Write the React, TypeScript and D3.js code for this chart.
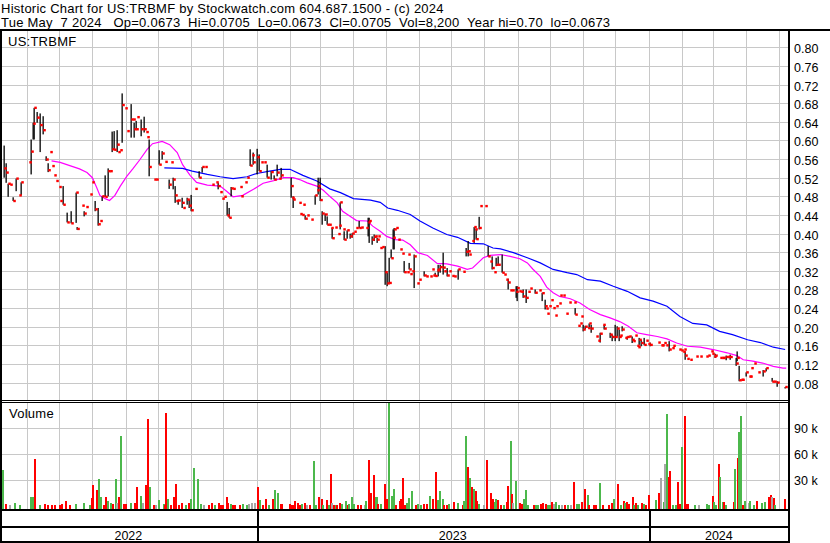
import React, { useEffect, useRef } from 'react';
import * as d3 from 'd3';

// day = calendar days after 2022-05-07; [day, high, low, close] or [day, close]
type Bar = number[];
// [day, volume in thousands, direction: 1 up, -1 down, 0 unchanged]
type Vol = number[];

const START = Date.UTC(2022, 4, 7);
const DAY = 864e5;
const SPAN_DAYS = 734.6;

const headerLine1 = 'Historic Chart for US:TRBMF by Stockwatch.com 604.687.1500 - (c) 2024';
const headerLine2 =
  'Tue May  7 2024   Op=0.0673  Hi=0.0705  Lo=0.0673  Cl=0.0705  Vol=8,200  Year hi=0.70  lo=0.0673';
const symbol = 'US:TRBMF';

const priceTicks = [0.08, 0.12, 0.16, 0.2, 0.24, 0.28, 0.32, 0.36, 0.4, 0.44, 0.48, 0.52, 0.56, 0.6, 0.64, 0.68, 0.72, 0.76, 0.8];
const volumeTicks = [30, 60, 90];

const bars2022: Bar[] = [
  [4, .589, .52, .54], [6, .551, .509, .531], [7, .507, .479, .507], [9, .505], [12, .478, .47, .47],
  [15, .518, .491, .518], [18, .482], [20, .51, .482, .51], [27, .553], [29, .602, .527, .576],
  [31, .638, .602, .636], [32, .67, .602, .67], [34, .661, .638, .649], [37, .658, .575, .633],
  [40, .652, .613, .622], [43, .566, .556, .559], [45, .551, .532, .536], [47, .575], [48, .545],
  [50, .525], [52, .513], [55, .5], [56, .47], [59, .502, .462, .462], [62, .445, .424, .424],
  [66, .448, .422, .422], [71, .488, .423, .488], [72, .414, .408, .41], [76, .46], [78, .448, .437, .443],
  [80, .457], [84, .484], [86, .51], [88, .47, .448, .452], [91, .455, .417, .42], [93, .427],
  [95, .48, .47, .48], [98, .525, .479, .479], [101, .54, .48, .534], [102, .534], [104, .619, .575, .581],
  [106, .62, .58, .58], [109, .622, .575, .591], [110, .575], [112, .579], [114, .701, .595, .676],
  [116, .669], [118, .62], [122, .678, .606, .645], [124, .645], [125, .638, .606, .624],
  [127, .642, .624, .624], [128, .65], [131, .645, .609, .624], [134, .651, .617, .624], [136, .618],
  [137, .607], [139, .602, .523, .543], [143, .516], [145, .516], [148, .579, .548, .548],
  [151, .577, .559, .572], [154, .554], [157, .516, .496, .505], [159, .553], [161, .52, .495, .516],
  [163, .502, .466, .482], [164, .47], [166, .473, .462, .471], [169, .477, .455, .466], [170, .455],
  [174, .477, .462, .473], [176, .473, .455, .46], [178, .483, .448, .45], [182, .496],
  [185, .534, .52, .52], [188, .543, .531, .543], [191, .543], [197, .505], [201, .51],
  [203, .509, .495, .502], [205, .489], [207, .475], [209, .479], [211, .468, .439, .439],
  [213, .455, .434, .434], [215, .5, .48, .497], [217, .496], [223, .5], [224, .48], [228, .51],
  [230, .52], [233, .581, .545, .546], [235, .568], [236, .574, .548, .553],
];

const bars2023: Bar[] = [
  [239, .582, .527, .564], [241, .57, .534, .534], [243, .553], [246, .553], [249, .548, .52, .52],
  [252, .534, .516, .532], [255, .525, .516, .516], [258, .548, .523, .531], [260, .518],
  [262, .541, .52, .525], [271, .52, .477, .502], [272, .477], [273, .48, .455, .473], [278, .466],
  [279, .442], [281, .44], [282, .462], [284, .439, .43, .432], [286, .439], [290, .43],
  [293, .482, .462, .482], [295, .493], [296, .52, .484, .502], [298, .52, .47, .472],
  [300, .448, .419, .443], [303, .443, .427, .441], [304, .437, .419, .419], [306, .419], [308, .412],
  [309, .412, .389, .39], [312, .413], [315, .399], [316, .417], [317, .467, .409, .467], [319, .409],
  [320, .405, .386, .387], [323, .407, .389, .407], [326, .4, .389, .394], [328, .401, .391, .4],
  [330, .404], [331, .412], [334, .427, .412, .412], [336, .413], [341, .412], [343, .434, .394, .424],
  [344, .434, .38, .427], [346, .394, .376, .387], [348, .398, .384, .393], [349, .394],
  [351, .391, .38, .387], [352, .394], [354, .369], [356, .371], [358, .373, .29, .317],
  [360, .316, .287, .293], [362, .348, .294, .294], [364, .366, .347, .347], [366, .409, .366, .391],
  [367, .412, .366, .409], [369, .412], [371, .387], [372, .366], [374, .357], [376, .341, .316, .317],
  [379, .317], [380, .355], [381, .337, .323, .323], [382, .313], [384, .319], [385, .355, .283, .351],
  [388, .293], [390, .301], [395, .319, .308, .31], [397, .308], [400, .308], [402, .323], [403, .31],
  [405, .316, .308, .309], [407, .321], [408, .333, .308, .323], [410, .333, .316, .328],
  [412, .359, .312, .327], [413, .319], [416, .326, .308, .31], [418, .319], [421, .309], [423, .308],
  [426, .323, .301, .323], [431, .318], [434, .369, .351, .361], [436, .384, .351, .362], [437, .355],
  [439, .384], [441, .414, .38, .414], [442, .409], [443, .41, .387, .388], [446, .436, .409, .412],
  [447, .459], [452, .459], [454, .373, .351, .351], [456, .34], [458, .351, .323, .326], [460, .317],
  [462, .348, .33, .333], [464, .351, .333, .333], [467, .355, .316, .316], [469, .312], [471, .301],
  [473, .303, .28, .295], [475, .278], [477, .278], [480, .287, .262, .275], [481, .287, .255, .283],
  [483, .276], [485, .275], [487, .28, .262, .265], [490, .28, .251, .262], [492, .275], [493, .282],
  [498, .28, .271, .273], [502, .278], [505, .273, .255, .272], [507, .258, .237, .244], [508, .239],
  [509, .228], [511, .244], [513, .257], [515, .24], [517, .224], [518, .244], [520, .25], [521, .267],
  [524, .267], [527, .228], [530, .252], [534, .252], [535, .24, .226, .226], [538, .202], [540, .207],
  [541, .222], [543, .204, .19, .194], [545, .202, .195, .2], [547, .197], [548, .207, .195, .207],
  [550, .204, .187, .196], [555, .179], [557, .17], [559, .187, .166, .185], [561, .204],
  [562, .204, .194, .196], [568, .187, .176, .183], [570, .183, .169, .178], [573, .204, .169, .178],
  [574, .201, .179, .196], [576, .194, .169, .178], [577, .181], [579, .201, .19, .194], [582, .176],
  [584, .179, .172, .178], [586, .179], [588, .179, .165, .172], [589, .169], [591, .181], [593, .159],
  [594, .156], [595, .176, .161, .172], [597, .172, .158, .165], [600, .176, .161, .161], [601, .17],
  [603, .163],
];

const bars2024: Bar[] = [
  [605, .166, .158, .161], [613, .166], [615, .16], [616, .16], [618, .165], [620, .16],
  [623, .169, .147, .151], [626, .154], [627, .159], [632, .151], [634, .149], [636, .146], [637, .151],
  [638, .147, .129, .138], [640, .131], [642, .129], [648, .136], [652, .136], [657, .136], [659, .138],
  [662, .147], [663, .142], [665, .136], [666, .142, .133, .138], [670, .133], [672, .133], [673, .133],
  [676, .138, .128, .135], [678, .135], [680, .14, .129, .135], [685, .133, .116, .121],
  [686, .147, .126, .133], [688, .116, .083, .085], [690, .086], [691, .086], [695, .102, .093, .102],
  [697, .093], [698, .093], [699, .111], [702, .121], [706, .102], [710, .107, .093, .104],
  [713, .111, .104, .111], [719, .09, .082, .082], [721, .082], [723, .083, .071, .08],
  [731, .0705, .0673, .0705],
];

// moving averages: [day, value]
const maShort: number[][] = [
  [48, .556], [56, .553], [65, .546], [74, .539], [81, .531], [86, .52], [90, .499], [93, .482],
  [98, .475], [102, .471], [107, .482], [112, .502], [118, .523], [124, .54], [130, .558], [137, .581],
  [142, .593], [151, .598], [158, .591], [165, .574], [170, .548], [177, .525], [183, .51], [193, .504],
  [205, .502], [211, .491], [217, .479], [226, .482], [236, .495], [245, .508], [254, .513], [264, .52],
  [273, .52], [279, .516], [286, .509], [295, .502], [301, .493], [307, .48], [314, .466], [319, .448],
  [328, .434], [332, .428], [342, .427], [347, .416], [354, .405], [360, .394], [368, .387], [375, .386],
  [382, .376], [389, .359], [398, .353], [407, .336], [416, .335], [426, .33], [435, .323], [440, .326],
  [445, .337], [450, .348], [456, .353], [466, .355], [475, .351], [484, .346], [491, .337], [496, .324],
  [503, .308], [509, .285], [515, .273], [521, .265], [531, .26], [540, .251], [549, .237], [559, .226],
  [568, .219], [577, .211], [585, .201], [593, .187], [602, .183], [612, .179], [621, .174], [630, .165],
  [640, .158], [652, .156], [664, .151], [677, .144], [686, .138], [692, .129], [701, .126], [710, .122],
  [720, .115], [729, .111], [732, .111],
];

const maLong: number[][] = [
  [153, .541], [170, .54], [179, .534], [193, .527], [205, .522], [217, .518], [230, .522], [239, .529],
  [251, .534], [261, .538], [270, .538], [282, .525], [295, .513], [307, .496], [317, .488], [329, .475],
  [345, .472], [354, .467], [361, .455], [370, .45], [382, .441], [391, .427], [403, .412], [416, .398],
  [426, .392], [438, .379], [450, .378], [459, .369], [466, .367], [478, .359], [491, .348], [503, .337],
  [515, .323], [528, .316], [537, .312], [547, .301], [559, .298], [571, .287], [584, .276], [596, .262],
  [608, .255], [621, .244], [633, .222], [645, .207], [658, .204], [670, .19], [682, .183], [696, .172],
  [708, .166], [720, .156], [731, .151],
];

const vol2022: Vol[] = [
  [2, 4, -1], [3, 42, 1], [6, 2, -1], [9, 1, 0], [14, 4, 1], [19, 1, 1], [29, 11, 1], [31, 11, 1],
  [33, 54, -1], [37, 1, 1], [42, 2, -1], [45, 1, -1], [48, 1, -1], [51, 1, -1], [56, 1, -1], [58, 2, -1],
  [61, 6, -1], [65, 1, -1], [71, 2, 1], [78, 4, 1], [84, 1, 1], [86, 9, -1], [87, 24, -1], [90, 19, -1],
  [92, 31, 1], [94, 11, 1], [97, 1, -1], [99, 10, -1], [101, 6, 1], [103, 3, 1], [105, 2, -1],
  [108, 31, 1], [109, 3, 0], [111, 10, -1], [113, 81, 1], [115, 2, -1], [117, 2, -1], [122, 3, 1],
  [126, 3, -1], [128, 22, -1], [131, 12, 1], [133, 3, 0], [136, 24, -1], [138, 101, -1], [140, 22, 1],
  [143, 1, -1], [145, 1, 0], [148, 7, 1], [153, 2, 1], [154, 1, -1], [155, 108, -1], [156, 8, 1],
  [159, 1, -1], [162, 11, -1], [164, 26, -1], [167, 1, -1], [169, 3, -1], [173, 1, 1], [176, 3, -1],
  [177, 4, -1], [178, 8, 1], [181, 44, 1], [184, 31, 1], [187, 2, 1], [190, 1, 0], [195, 1, -1],
  [197, 4, -1], [200, 1, 1], [204, 4, -1], [206, 1, -1], [208, 1, -1], [211, 10, -1], [212, 4, -1],
  [215, 2, 1], [217, 1, -1], [219, 1, -1], [223, 1, -1], [226, 2, 1], [230, 1, 1], [232, 2, 0],
  [235, 3, 0], [237, 3, 0],
];

const vol2023: Vol[] = [
  [240, 22, -1], [242, 7, 1], [245, 1, -1], [248, 8, -1], [250, 1, 1], [254, 8, -1], [256, 18, 1],
  [259, 15, 1], [262, 2, -1], [263, 2, -1], [270, 2, -1], [272, 1, -1], [273, 1, -1], [275, 6, -1],
  [277, 3, -1], [279, 1, -1], [281, 2, 1], [284, 3, -1], [286, 1, 0], [289, 1, -1], [292, 52, 1],
  [294, 1, 1], [297, 10, -1], [300, 8, -1], [301, 1, 1], [304, 7, -1], [306, 1, 1], [308, 37, -1],
  [309, 3, 0], [311, 1, -1], [313, 1, 1], [314, 1, -1], [317, 4, -1], [318, 2, 1], [322, 6, 1],
  [324, 1, -1], [325, 2, 1], [328, 10, 1], [330, 2, 1], [333, 1, -1], [336, 1, -1], [340, 1, 0],
  [341, 6, 1], [344, 53, -1], [345, 15, -1], [348, 36, -1], [350, 11, 1], [351, 10, 1], [352, 2, -1],
  [355, 2, 1], [358, 26, -1], [360, 8, -1], [362, 121, 1], [365, 12, 1], [367, 20, 1], [369, 1, -1],
  [372, 6, -1], [373, 8, -1], [375, 33, -1], [377, 1, -1], [379, 3, 1], [381, 9, 1], [384, 17, 1],
  [387, 1, -1], [389, 2, 1], [392, 1, 1], [395, 2, -1], [398, 2, -1], [400, 12, 1], [403, 8, -1],
  [406, 39, -1], [408, 7, 1], [410, 17, 1], [412, 8, 1], [413, 1, -1], [416, 1, -1], [418, 2, 1],
  [423, 5, -1], [426, 3, 1], [431, 1, -1], [432, 6, 1], [434, 81, 1], [436, 45, -1], [438, 32, 1],
  [439, 22, -1], [441, 20, 1], [443, 17, -1], [444, 6, -1], [446, 2, 1], [451, 1, 0], [453, 53, -1],
  [457, 15, -1], [459, 8, -1], [461, 5, 1], [462, 8, 1], [464, 7, -1], [466, 1, -1], [469, 1, 1],
  [472, 5, -1], [473, 23, -1], [476, 75, 1], [477, 14, -1], [478, 3, 0], [480, 29, 1], [484, 3, -1],
  [486, 2, -1], [488, 8, 1], [490, 19, 1], [492, 1, 1], [497, 1, -1], [499, 1, 1], [501, 1, 1],
  [504, 2, -1], [506, 3, -1], [508, 2, -1], [510, 1, 1], [512, 1, 1], [514, 5, -1], [516, 2, 0],
  [518, 5, 1], [520, 1, 1], [523, 1, 0], [526, 1, -1], [529, 1, 1], [532, 1, 0], [534, 28, -1],
  [537, 2, 1], [539, 2, 1], [542, 5, -1], [545, 20, -1], [547, 13, 1], [548, 1, -1], [553, 1, -1],
  [555, 1, -1], [559, 27, 1], [561, 1, -1], [567, 1, -1], [570, 3, -1], [572, 8, 1], [575, 26, -1],
  [578, 1, 1], [581, 6, -1], [582, 3, 1], [584, 5, -1], [586, 2, -1], [589, 10, -1], [590, 1, 1],
  [592, 3, -1], [594, 1, 1], [598, 3, -1], [600, 2, 1], [601, 1, -1],
];

const vol2024: Vol[] = [
  [604, 13, -1], [611, 7, 1], [614, 15, -1], [615, 32, 0], [618, 5, 1], [619, 49, 0], [621, 107, 1],
  [623, 34, -1], [624, 41, -1], [627, 1, 1], [629, 1, 1], [631, 28, -1], [633, 2, -1], [635, 68, 1],
  [638, 104, -1], [639, 2, -1], [641, 2, -1], [647, 1, 1], [651, 1, 0], [658, 2, 1], [660, 1, 1],
  [664, 12, -1], [665, 5, 1], [667, 1, 1], [669, 49, -1], [670, 34, 1], [673, 5, 1], [674, 5, -1],
  [676, 1, 1], [683, 5, -1], [684, 43, 1], [687, 56, -1], [688, 86, 1], [690, 104, 1], [692, 1, -1],
  [694, 6, 1], [697, 4, 0], [698, 6, 1], [702, 1, 1], [705, 6, -1], [709, 4, 1], [712, 5, 1],
  [716, 11, -1], [718, 13, -1], [719, 10, 0], [721, 9, -1], [722, 1, 1], [731, 8, -1],
];

const W = 830;
const H = 543;
const plotR = 789;
const priceTop = 31;
const priceBot = 400;
const volTop = 402;
const volBot = 509;
const font = '"Liberation Sans", Arial, sans-serif';

const App: React.FC = () => {
  const svgRef = useRef<SVGSVGElement | null>(null);

  useEffect(() => {
    document.body.style.margin = '0';
    const svg = d3.select(svgRef.current);
    svg.selectAll('*').remove();

    const toDate = (d: number) => new Date(START + d * DAY);
    const x = d3.scaleUtc().domain([new Date(START), toDate(SPAN_DAYS)]).range([0, plotR]);
    const yP = d3.scaleLinear().domain([0.08, 0.8]).range([382.6, 47.3]);
    const yV = d3.scaleLinear().domain([0, 30]).range([506, 480.1]);

    svg.append('rect').attr('width', W).attr('height', H).attr('fill', '#fff');

    const defs = svg.append('defs');
    defs.append('clipPath').attr('id', 'priceClip').append('rect')
      .attr('x', 2).attr('y', priceTop).attr('width', plotR - 2).attr('height', priceBot - priceTop);
    defs.append('clipPath').attr('id', 'volClip').append('rect')
      .attr('x', 2).attr('y', volTop).attr('width', plotR - 2).attr('height', volBot - volTop);

    // grid
    const grid = svg.append('g').attr('stroke', '#c8c8c8').attr('stroke-width', 1).attr('shape-rendering', 'crispEdges');
    const months = d3.utcMonth.range(x.domain()[0], x.domain()[1]);
    months.forEach((m) => {
      const gx = Math.round(x(m)) + 0.5;
      grid.append('line').attr('x1', gx).attr('x2', gx).attr('y1', priceTop).attr('y2', priceBot);
      grid.append('line').attr('x1', gx).attr('x2', gx).attr('y1', volTop).attr('y2', volBot);
    });
    priceTicks.forEach((t) => {
      const gy = Math.round(yP(t)) + 0.5;
      grid.append('line').attr('x1', 0).attr('x2', plotR).attr('y1', gy).attr('y2', gy);
    });
    volumeTicks.forEach((t) => {
      const gy = Math.round(yV(t)) + 0.5;
      grid.append('line').attr('x1', 0).attr('x2', plotR).attr('y1', gy).attr('y2', gy);
    });

    // moving averages
    const line = d3.line<number[]>().x((d) => x(toDate(d[0]))).y((d) => yP(d[1]));
    const pg = svg.append('g').attr('clip-path', 'url(#priceClip)');
    pg.append('path').attr('d', line(maShort)).attr('fill', 'none').attr('stroke', '#ff00ff').attr('stroke-width', 1.2);
    pg.append('path').attr('d', line(maLong)).attr('fill', 'none').attr('stroke', '#0000ff').attr('stroke-width', 1.2);

    // price bars
    const bars = [...bars2022, ...bars2023, ...bars2024].map((b) =>
      b.length === 2 ? { d: b[0], hi: b[1], lo: b[1], cl: b[1] } : { d: b[0], hi: b[1], lo: b[2], cl: b[3] }
    );
    pg.selectAll('rect.hl')
      .data(bars.filter((b) => b.hi !== b.lo))
      .enter()
      .append('rect')
      .attr('class', 'hl')
      .attr('x', (b) => Math.round(x(toDate(b.d))) - 0.5)
      .attr('y', (b) => yP(b.hi))
      .attr('width', 1.3)
      .attr('height', (b) => Math.max(1, yP(b.lo) - yP(b.hi)))
      .attr('fill', '#000');
    pg.selectAll('rect.cl')
      .data(bars)
      .enter()
      .append('rect')
      .attr('class', 'cl')
      .attr('x', (b) => Math.round(x(toDate(b.d))) + 0.3)
      .attr('y', (b) => yP(b.cl) - 1.2)
      .attr('width', 2.5)
      .attr('height', 2.4)
      .attr('fill', '#ff0000');

    // volume
    const colour = (dir: number) => (dir > 0 ? '#4cb84c' : dir < 0 ? '#ff0000' : '#a8a8a8');
    const vols = [...vol2022, ...vol2023, ...vol2024];
    svg.append('g').attr('clip-path', 'url(#volClip)')
      .selectAll('rect')
      .data(vols)
      .enter()
      .append('rect')
      .attr('x', (v) => Math.round(x(toDate(v[0]))) - 1)
      .attr('y', (v) => yV(v[1]))
      .attr('width', 2)
      .attr('height', (v) => volBot - yV(v[1]))
      .attr('fill', (v) => colour(v[2]))
      .attr('shape-rendering', 'crispEdges');

    // frame
    const frame = svg.append('g').attr('fill', '#000').attr('shape-rendering', 'crispEdges');
    frame.append('rect').attr('x', 0).attr('y', 29).attr('width', W).attr('height', 2);
    frame.append('rect').attr('x', 0).attr('y', 29).attr('width', 2).attr('height', H - 29);
    frame.append('rect').attr('x', plotR - 1).attr('y', 29).attr('width', 2).attr('height', H - 29);
    frame.append('rect').attr('x', 0).attr('y', priceBot).attr('width', plotR).attr('height', 1);
    frame.append('rect').attr('x', 0).attr('y', volTop).attr('width', plotR).attr('height', 1);
    frame.append('rect').attr('x', 0).attr('y', volBot).attr('width', plotR).attr('height', 2);
    frame.append('rect').attr('x', 0).attr('y', 526).attr('width', plotR).attr('height', 2);
    frame.append('rect').attr('x', 0).attr('y', 541).attr('width', plotR).attr('height', 2);

    const years = d3.utcYear.range(x.domain()[0], x.domain()[1]);
    years.forEach((yr) => {
      frame.append('rect').attr('x', Math.round(x(yr))).attr('y', volBot).attr('width', 1.5).attr('height', H - volBot);
    });
    const bounds = [0, ...years.map((yr) => x(yr)), plotR];
    const yearLabels = [x.domain()[0], ...years].map((yr) => d3.utcFormat('%Y')(yr));

    const text = svg.append('g').attr('font-family', font).attr('fill', '#000');
    text.append('text').attr('x', 1).attr('y', 13).attr('font-size', 13).attr('letter-spacing', 0.25).text(headerLine1);
    text.append('text').attr('x', 1).attr('y', 26.5).attr('font-size', 13).attr('letter-spacing', 0.25)
      .attr('xml:space', 'preserve').style('white-space', 'pre').text(headerLine2);
    text.append('text').attr('x', 8).attr('y', 46).attr('font-size', 13).attr('letter-spacing', 0.25).text(symbol);
    text.append('text').attr('x', 9).attr('y', 418).attr('font-size', 13).attr('letter-spacing', 0.25).text('Volume');

    priceTicks.forEach((t) => {
      text.append('text').attr('x', 794).attr('y', Math.round(yP(t)) + 5.5).attr('font-size', 12.5).text(t.toFixed(2));
    });
    volumeTicks.forEach((t) => {
      text.append('text').attr('x', 794).attr('y', Math.round(yV(t)) + 5).attr('font-size', 12.5)
        .attr('xml:space', 'preserve').style('white-space', 'pre').text(`${t} k`);
    });
    yearLabels.forEach((lbl, i) => {
      text.append('text').attr('x', (bounds[i] + bounds[i + 1]) / 2).attr('y', 539.5)
        .attr('font-size', 12.5).attr('text-anchor', 'middle').text(lbl);
    });
  }, []);

  return <svg ref={svgRef} width={W} height={H} style={{ position: 'absolute', left: 0, top: 0, display: 'block' }} />;
};

export default App;
